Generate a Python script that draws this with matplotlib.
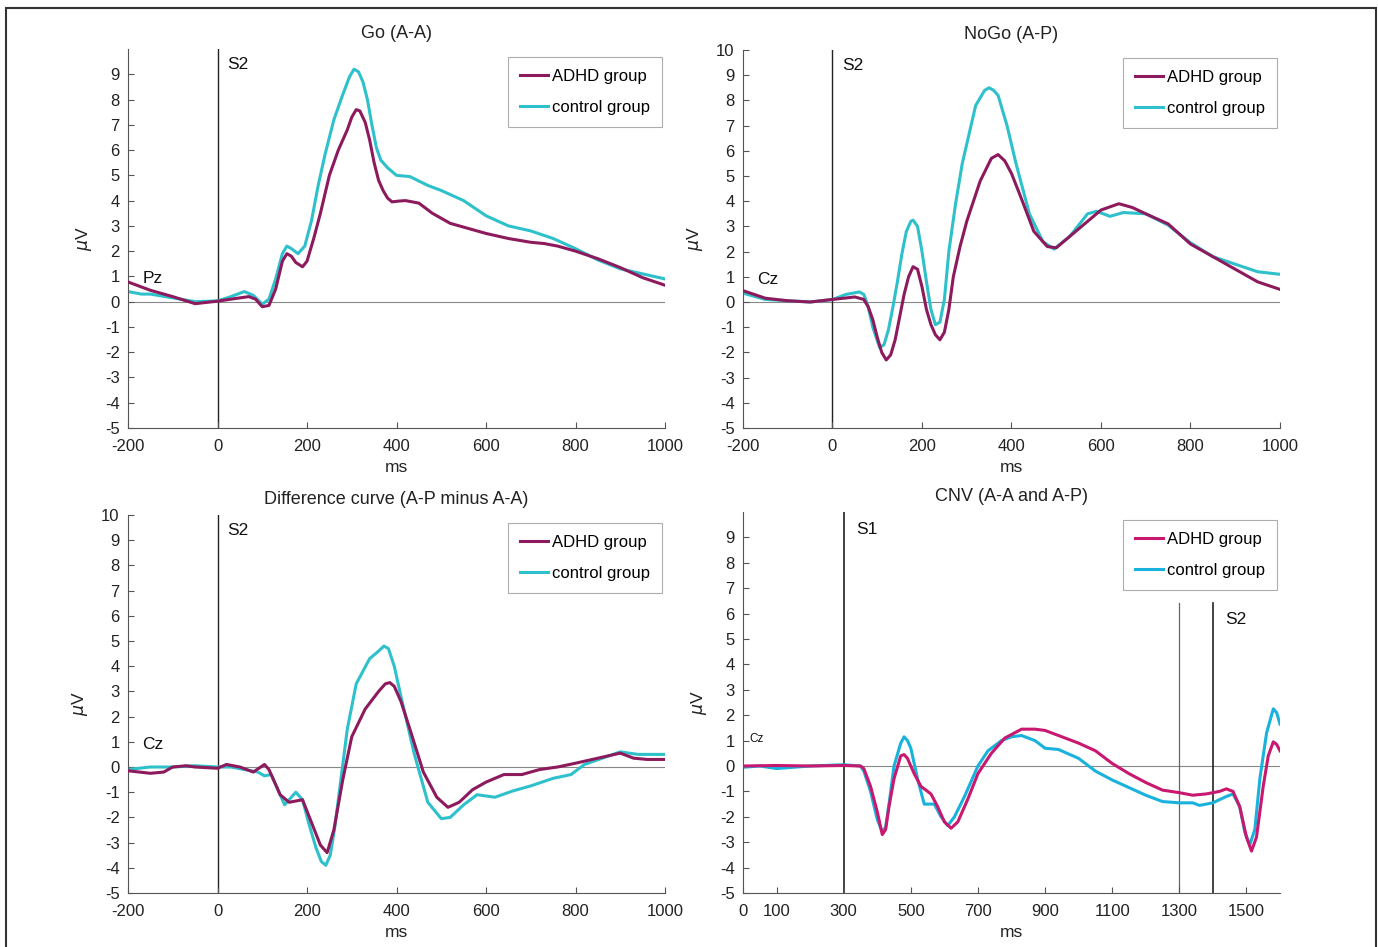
import numpy as np
import matplotlib
matplotlib.use('agg')
import matplotlib.pyplot as plt
from matplotlib.patches import Rectangle

plt.rcParams['font.family'] = ['Liberation Sans', 'DejaVu Sans']
plt.rcParams['axes.unicode_minus'] = False

# ---- Go (A-A), Pz ----
go_t = [-200, -150, -100, -50, 0, 50, 70, 85, 100, 115, 130, 145, 155, 165, 175,
        190, 200, 215, 230, 250, 270, 290, 300, 310, 318, 330, 340, 350, 360, 370,
        380, 390, 405, 420, 450, 480, 520, 560, 600, 650, 700, 730, 760, 800,
        850, 900, 950, 1000]
go_adhd = [0.78, 0.45, 0.2, -0.08, 0.02, 0.15, 0.2, 0.1, -0.2, -0.15, 0.5, 1.6,
           1.9, 1.8, 1.55, 1.38, 1.6, 2.5, 3.5, 5.0, 6.0, 6.8, 7.3, 7.6, 7.55, 7.1,
           6.4, 5.5, 4.8, 4.4, 4.1, 3.95, 3.98, 4.0, 3.9, 3.5, 3.1, 2.9, 2.7, 2.5,
           2.35, 2.3, 2.2, 2.0, 1.7, 1.35, 0.95, 0.65]
go_ctrl_t = [-200, -170, -150, -100, -50, 0, 30, 60, 80, 100, 115, 130, 145, 155,
             165, 180, 195, 210, 225, 240, 260, 280, 295, 305, 315, 325, 335, 345,
             355, 365, 380, 400, 430, 470, 500, 550, 600, 650, 700, 750, 800, 850,
             900, 950, 1000]
go_ctrl = [0.4, 0.3, 0.3, 0.15, 0.0, 0.03, 0.2, 0.4, 0.25, -0.1, 0.1, 0.9, 1.9,
           2.2, 2.1, 1.9, 2.2, 3.2, 4.6, 5.8, 7.2, 8.2, 8.9, 9.2, 9.1, 8.7, 8.0,
           7.0, 6.1, 5.6, 5.3, 5.0, 4.95, 4.6, 4.4, 4.0, 3.4, 3.0, 2.8, 2.5, 2.1,
           1.65, 1.3, 1.1, 0.9]

# ---- NoGo (A-P), Cz ----
nogo_adhd_t = [-200, -150, -100, -50, 0, 50, 70, 80, 90, 100, 110, 120, 130, 140,
               150, 160, 170, 180, 190, 200, 210, 220, 230, 240, 250, 260, 270,
               285, 300, 330, 355, 370, 385, 400, 420, 450, 480, 500, 530, 570,
               600, 640, 670, 700, 750, 800, 850, 900, 950, 1000]
nogo_adhd = [0.45, 0.15, 0.05, 0.0, 0.1, 0.2, 0.1, -0.2, -0.7, -1.4, -2.0, -2.3,
             -2.1, -1.5, -0.6, 0.3, 1.0, 1.4, 1.3, 0.6, -0.3, -0.9, -1.3, -1.5,
             -1.2, -0.3, 1.0, 2.2, 3.2, 4.8, 5.7, 5.85, 5.6, 5.1, 4.2, 2.8, 2.2,
             2.15, 2.6, 3.2, 3.65, 3.9, 3.75, 3.5, 3.1, 2.3, 1.8, 1.3, 0.8, 0.5]
nogo_ctrl_t = [-200, -150, -100, -50, 0, 30, 60, 70, 80, 90, 105, 115, 125, 135,
               145, 155, 165, 175, 180, 190, 200, 210, 220, 230, 240, 250, 260,
               275, 290, 320, 340, 350, 360, 370, 390, 410, 440, 470, 495, 530,
               570, 590, 620, 650, 700, 750, 800, 850, 900, 950, 1000]
nogo_ctrl = [0.35, 0.1, 0.05, 0.0, 0.1, 0.3, 0.4, 0.3, -0.2, -1.0, -1.8, -1.7,
             -1.1, -0.2, 0.8, 1.9, 2.8, 3.2, 3.25, 3.0, 2.0, 0.8, -0.3, -0.9,
             -0.8, 0.1, 2.0, 3.9, 5.5, 7.8, 8.4, 8.5, 8.4, 8.2, 7.0, 5.5, 3.5,
             2.4, 2.1, 2.6, 3.5, 3.6, 3.4, 3.55, 3.5, 3.05, 2.35, 1.8, 1.5, 1.2,
             1.1]

# ---- Difference curve (A-P minus A-A), Cz ----
diff_adhd_t = [-200, -150, -120, -100, -70, -50, 0, 20, 50, 80, 105, 115, 125,
               140, 160, 190, 210, 230, 245, 260, 280, 300, 330, 360, 375, 385,
               395, 410, 430, 460, 490, 515, 540, 570, 600, 640, 680, 720, 760,
               800, 850, 900, 930, 960, 1000]
diff_adhd = [-0.15, -0.25, -0.2, 0.0, 0.05, 0.0, -0.05, 0.1, 0.0, -0.2, 0.1, -0.1,
             -0.5, -1.1, -1.4, -1.3, -2.2, -3.1, -3.4, -2.5, -0.5, 1.2, 2.3, 3.0,
             3.3, 3.35, 3.2, 2.6, 1.5, -0.2, -1.2, -1.6, -1.4, -0.9, -0.6, -0.3,
             -0.3, -0.1, 0.0, 0.15, 0.35, 0.55, 0.35, 0.3, 0.3]
diff_ctrl_t = [-200, -150, -100, -50, 0, 30, 60, 90, 105, 120, 135, 150, 165, 175,
               190, 205, 220, 232, 242, 252, 262, 275, 290, 310, 340, 360, 372,
               382, 395, 410, 440, 470, 500, 520, 550, 580, 620, 660, 700, 750,
               790, 820, 860, 900, 940, 1000]
diff_ctrl = [-0.1, 0.0, 0.0, 0.05, 0.0, 0.0, -0.1, -0.2, -0.35, -0.3, -0.9, -1.5,
             -1.2, -1.0, -1.3, -2.3, -3.2, -3.75, -3.9, -3.5, -2.4, -0.6, 1.5, 3.3,
             4.3, 4.6, 4.8, 4.7, 4.0, 2.8, 0.5, -1.4, -2.05, -2.0, -1.5, -1.1,
             -1.2, -0.95, -0.75, -0.45, -0.3, 0.1, 0.35, 0.6, 0.5, 0.5]

# ---- CNV (A-A and A-P), Cz ----
cnv_adhd_t = [0, 100, 200, 300, 350, 360, 380, 400, 415, 425, 435, 450, 470, 480,
              490, 510, 530, 560, 580, 600, 620, 640, 670, 700, 740, 780, 830,
              870, 900, 950, 1000, 1050, 1100, 1150, 1200, 1250, 1300, 1340, 1380,
              1400, 1420, 1440, 1460, 1480, 1500, 1515, 1530, 1550, 1565, 1580,
              1590, 1600]
cnv_adhd = [0.0, 0.02, 0.0, 0.02, 0.0, -0.1, -0.8, -1.8, -2.7, -2.5, -1.6, -0.5,
            0.4, 0.45, 0.3, -0.3, -0.8, -1.1, -1.6, -2.2, -2.45, -2.2, -1.3, -0.3,
            0.5, 1.1, 1.45, 1.45, 1.4, 1.15, 0.9, 0.6, 0.1, -0.3, -0.65, -0.95,
            -1.05, -1.15, -1.1, -1.05, -1.0, -0.9, -1.0, -1.6, -2.8, -3.35, -2.8,
            -0.8, 0.4, 0.95, 0.85, 0.6]
cnv_ctrl_t = [0, 50, 100, 200, 300, 350, 360, 380, 400, 415, 425, 435, 450, 470,
              480, 490, 500, 520, 540, 570, 590, 610, 630, 660, 700, 730, 770, 800,
              830, 870, 900, 940, 1000, 1050, 1100, 1150, 1200, 1250, 1300, 1340,
              1360, 1400, 1440, 1460, 1480, 1495, 1510, 1525, 1540, 1560, 1580,
              1590, 1600]
cnv_ctrl = [-0.05, 0.0, -0.1, 0.0, 0.05, 0.0, -0.2, -1.0, -2.1, -2.6, -2.4, -1.5,
            0.0, 0.9, 1.15, 1.0, 0.7, -0.5, -1.5, -1.5, -2.0, -2.35, -2.0, -1.2,
            0.0, 0.6, 1.0, 1.15, 1.2, 1.0, 0.7, 0.65, 0.3, -0.2, -0.55, -0.85,
            -1.15, -1.4, -1.45, -1.45, -1.55, -1.45, -1.2, -1.1, -1.6, -2.6, -3.1,
            -2.5, -0.5, 1.3, 2.25, 2.1, 1.65]

labels = ['ADHD group', 'control group']
c_adhd, c_ctrl = '#8c1a5c', '#2ec0cb'
c_adhd_cnv, c_ctrl_cnv = '#c8186f', '#19b2dc'

fig = plt.figure(figsize=(13.78, 9.47), dpi=100)
fig.patches.append(Rectangle((6 / 1378, -0.01), 1370 / 1378, 1 - 8 / 947 + 0.01,
                             transform=fig.transFigure, fill=False,
                             edgecolor='#333333', lw=1.5))

W = 537 / 1378
pos = [[128 / 1378, 1 - 428 / 947, W, 379 / 947],
       [743 / 1378, 1 - 428 / 947, W, 378 / 947],
       [128 / 1378, 1 - 893 / 947, W, 378 / 947],
       [743 / 1378, 1 - 893 / 947, W, 381 / 947]]


def style(ax, title, xlim, xticks, yticks):
    ax.set_xlim(*xlim)
    ax.set_ylim(-5, 10)
    ax.set_xticks(xticks)
    ax.set_yticks(yticks)
    for s in ['top', 'right']:
        ax.spines[s].set_visible(False)
    for s in ['left', 'bottom']:
        ax.spines[s].set_color('#555555')
        ax.spines[s].set_linewidth(0.8)
    ax.tick_params(direction='in', length=4, width=0.8, color='#555555',
                   labelsize=12, labelcolor='#222222')
    ax.tick_params(axis='x', pad=8)
    ax.tick_params(axis='y', pad=6)
    ax.set_title(title, fontsize=13, pad=8, color='#222222')
    ax.set_xlabel('ms', fontsize=12.5, color='#222222', labelpad=4)
    ax.set_ylabel(r'$\mu$V', fontsize=12.5, color='#222222', labelpad=8)
    ax.axhline(0, color='#888888', lw=0.8, zorder=1)


def legend(ax, handles):
    lg = ax.legend(handles, labels, loc='upper right', bbox_to_anchor=(0.995, 0.98),
                   fontsize=12, frameon=True, fancybox=False, edgecolor='#999999',
                   handlelength=1.7, handletextpad=0.2, labelspacing=0.95,
                   borderpad=0.75, borderaxespad=0)
    lg.get_frame().set_linewidth(0.8)


panels = [
    ('Go (A-A)', go_t, go_adhd, go_ctrl_t, go_ctrl, 'Pz', list(range(-5, 10))),
    ('NoGo (A-P)', nogo_adhd_t, nogo_adhd, nogo_ctrl_t, nogo_ctrl, 'Cz',
     list(range(-5, 11))),
    ('Difference curve (A-P minus A-A)', diff_adhd_t, diff_adhd, diff_ctrl_t,
     diff_ctrl, 'Cz', list(range(-5, 11))),
]

for i, (title, ta, ya, tc, yc, el, yt) in enumerate(panels):
    ax = fig.add_axes(pos[i])
    style(ax, title, (-200, 1000), range(-200, 1001, 200), yt)
    ax.axvline(0, color='#222222', lw=1.0, zorder=1)
    la, = ax.plot(ta, ya, color=c_adhd, lw=2.2, zorder=3)
    lc, = ax.plot(tc, yc, color=c_ctrl, lw=2.2, zorder=2)
    legend(ax, [la, lc])
    ax.text(-168, 0.9, el, fontsize=12.5, color='#111111', va='center')
    ax.text(22, 9.4, 'S2', fontsize=12.5, color='#111111', va='center')

ax = fig.add_axes(pos[3])
style(ax, 'CNV (A-A and A-P)', (0, 1600), [0, 100, 300, 500, 700, 900, 1100, 1300, 1500],
      list(range(-5, 10)))
ax.axvline(300, color='#333333', lw=1.3, zorder=1)
ax.plot([1300, 1300], [-5, 6.4], color='#666666', lw=0.9, zorder=1)
ax.plot([1400, 1400], [-5, 6.4], color='#222222', lw=1.2, zorder=1)
la, = ax.plot(cnv_adhd_t, cnv_adhd, color=c_adhd_cnv, lw=2.2, zorder=3)
lc, = ax.plot(cnv_ctrl_t, cnv_ctrl, color=c_ctrl_cnv, lw=2.2, zorder=2)
legend(ax, [la, lc])
ax.text(20, 1.05, 'Cz', fontsize=8.5, color='#111111', va='center')
ax.text(337, 9.3, 'S1', fontsize=12.5, color='#111111', va='center')
ax.text(1437, 5.75, 'S2', fontsize=12.5, color='#111111', va='center')

fig.savefig('out.png', dpi=100)
